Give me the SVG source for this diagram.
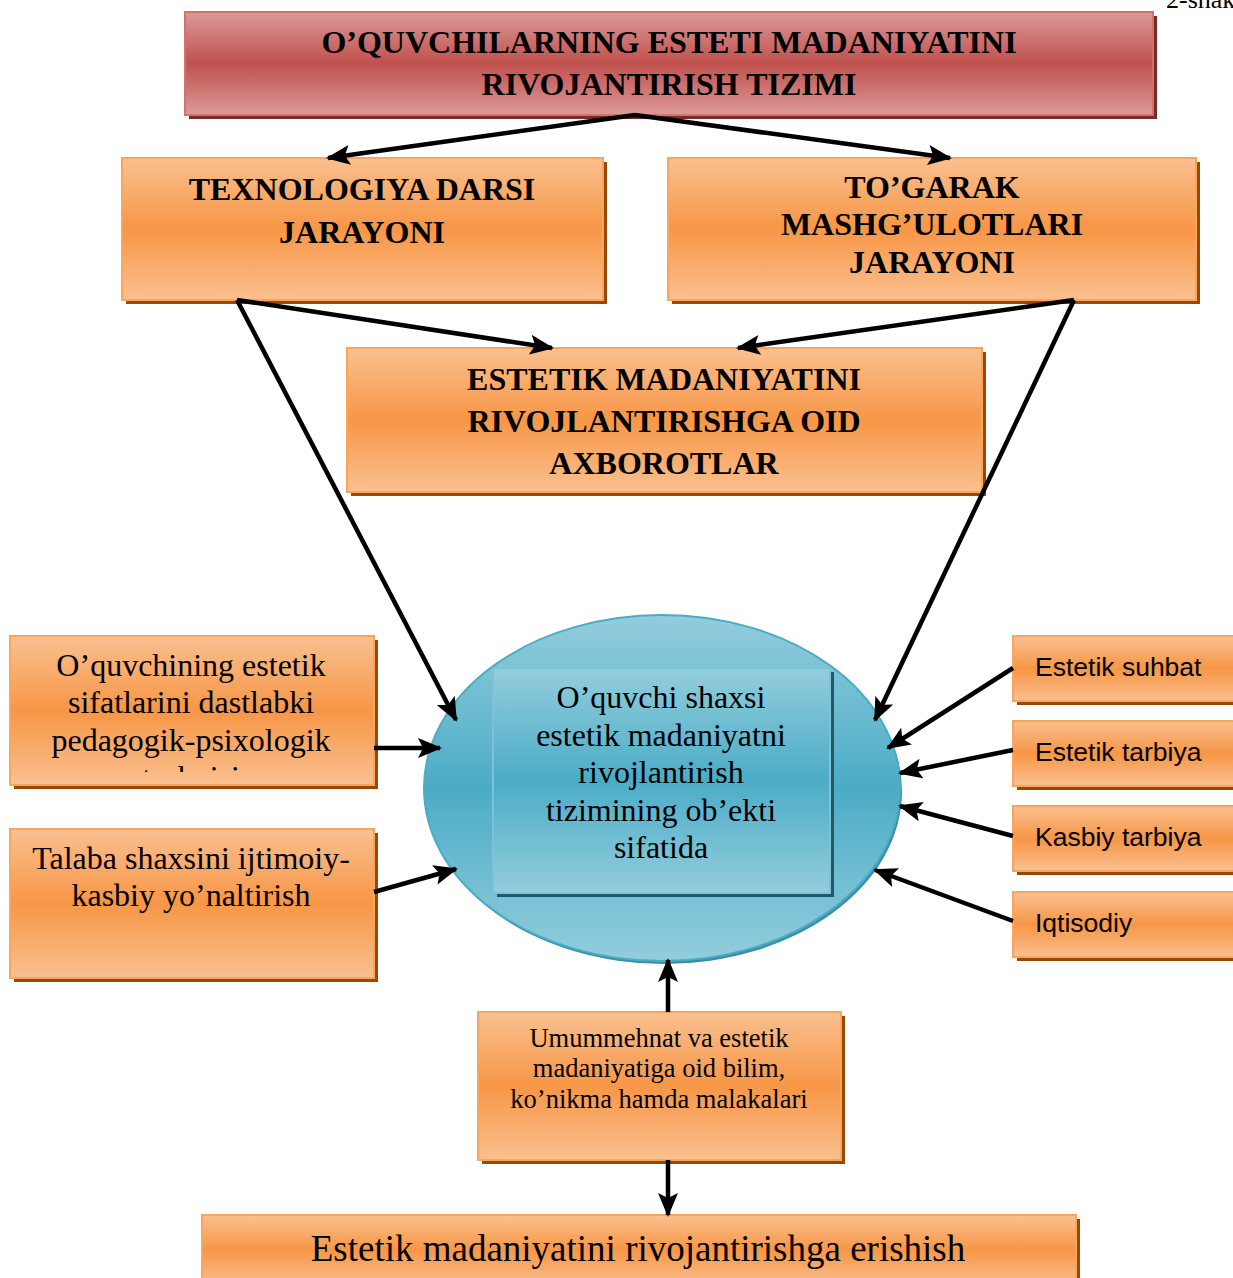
<svg xmlns="http://www.w3.org/2000/svg" width="1233" height="1278" viewBox="0 0 1233 1278">
<style>
.serifB{font-family:"Liberation Serif","Times New Roman",serif;font-weight:bold;font-size:32px;fill:#000;text-anchor:middle}
.serif{font-family:"Liberation Serif","Times New Roman",serif;font-size:32px;fill:#000;text-anchor:middle}
.sans{font-family:"Liberation Sans",Arial,sans-serif;font-size:26.5px;fill:#000}
.obox{fill:url(#og);stroke:#f9a55e;stroke-width:2}
.oshadow{fill:#984807}
.conn{stroke:#000;stroke-width:4.5;fill:none;marker-end:url(#ah)}
</style>
<defs>
<linearGradient id="og" x1="0" y1="0" x2="0" y2="1">
<stop offset="0" stop-color="#fac090"/>
<stop offset="0.5" stop-color="#f79646"/>
<stop offset="1" stop-color="#fac090"/>
</linearGradient>
<linearGradient id="rg" x1="0" y1="0" x2="0" y2="1">
<stop offset="0" stop-color="#dc9a99"/>
<stop offset="0.5" stop-color="#c0504d"/>
<stop offset="1" stop-color="#dc9a99"/>
</linearGradient>
<linearGradient id="bg" x1="0" y1="0" x2="0" y2="1">
<stop offset="0" stop-color="#93cddd"/>
<stop offset="0.5" stop-color="#4bacc6"/>
<stop offset="1" stop-color="#93cddd"/>
</linearGradient>
<marker id="ah" markerUnits="userSpaceOnUse" markerWidth="24" markerHeight="20" viewBox="0 0 24 20" refX="22" refY="10" orient="auto">
<path d="M0,0 L24,10 L0,20 L5,10 Z" fill="#000"/>
</marker>
<clipPath id="clipL1"><rect x="10" y="636" width="364" height="136"/></clipPath>
</defs>

<text x="1166" y="8" style="font-family:'Liberation Serif',serif;font-size:26px;fill:#000">2-shakl</text>

<g id="title">
<rect x="189" y="16" width="968" height="103" fill="#7a2a28"/>
<rect x="185" y="12" width="968" height="103" fill="url(#rg)" stroke="#d07470" stroke-width="2"/>
<text class="serifB" x="669" y="53">O’QUVCHILARNING ESTETI MADANIYATINI</text>
<text class="serifB" x="669" y="95">RIVOJANTIRISH TIZIMI</text>
</g>

<g id="texnologiya">
<rect class="oshadow" x="126" y="162" width="481" height="142"/>
<rect class="obox" x="122" y="158" width="481" height="142"/>
<text class="serifB" x="362" y="200">TEXNOLOGIYA DARSI</text>
<text class="serifB" x="362" y="243">JARAYONI</text>
</g>

<g id="togarak">
<rect class="oshadow" x="672" y="162" width="528" height="142"/>
<rect class="obox" x="668" y="158" width="528" height="142"/>
<text class="serifB" x="932" y="198">TO’GARAK</text>
<text class="serifB" x="932" y="235">MASHG’ULOTLARI</text>
<text class="serifB" x="932" y="273">JARAYONI</text>
</g>

<g id="axborotlar">
<rect class="oshadow" x="351" y="352" width="635" height="144"/>
<rect class="obox" x="347" y="348" width="635" height="144"/>
<text class="serifB" x="664" y="390">ESTETIK MADANIYATINI</text>
<text class="serifB" x="664" y="432">RIVOJLANTIRISHGA OID</text>
<text class="serifB" x="664" y="474">AXBOROTLAR</text>
</g>

<g id="center">
<ellipse cx="664" cy="791" rx="238" ry="173" fill="#3a8ea6"/>
<ellipse cx="662" cy="788" rx="238" ry="173" fill="url(#bg)" stroke="#4bacc6" stroke-width="2"/>
<rect x="497" y="672" width="337" height="225" fill="#215968"/>
<rect x="493" y="668" width="337" height="225" fill="url(#bg)" stroke="#7cc3d7" stroke-width="2"/>
<text class="serif" x="661" y="708">O’quvchi shaxsi</text>
<text class="serif" x="661" y="746">estetik madaniyatni</text>
<text class="serif" x="661" y="783">rivojlantirish</text>
<text class="serif" x="661" y="821">tizimining ob’ekti</text>
<text class="serif" x="661" y="858">sifatida</text>
</g>

<g id="left1">
<rect class="oshadow" x="14" y="640" width="364" height="149"/>
<rect class="obox" x="10" y="636" width="364" height="149"/>
<g clip-path="url(#clipL1)">
<text class="serif" x="191" y="676">O’quvchining estetik</text>
<text class="serif" x="191" y="713">sifatlarini dastlabki</text>
<text class="serif" x="191" y="751">pedagogik-psixologik</text>
<text class="serif" x="191" y="788">tashxisi</text>
</g>
</g>

<g id="left2">
<rect class="oshadow" x="14" y="833" width="364" height="149"/>
<rect class="obox" x="10" y="829" width="364" height="149"/>
<text class="serif" x="191" y="869">Talaba shaxsini ijtimoiy-</text>
<text class="serif" x="191" y="906">kasbiy yo’naltirish</text>
</g>

<g id="r1">
<rect class="oshadow" x="1017" y="640" width="230" height="65"/>
<rect class="obox" x="1013" y="636" width="230" height="65"/>
<text class="sans" x="1035" y="676">Estetik suhbat</text>
</g>
<g id="r2">
<rect class="oshadow" x="1017" y="725" width="230" height="65"/>
<rect class="obox" x="1013" y="721" width="230" height="65"/>
<text class="sans" x="1035" y="761">Estetik tarbiya</text>
</g>
<g id="r3">
<rect class="oshadow" x="1017" y="810" width="230" height="65"/>
<rect class="obox" x="1013" y="806" width="230" height="65"/>
<text class="sans" x="1035" y="846">Kasbiy tarbiya</text>
</g>
<g id="r4">
<rect class="oshadow" x="1017" y="896" width="230" height="65"/>
<rect class="obox" x="1013" y="892" width="230" height="65"/>
<text class="sans" x="1035" y="932">Iqtisodiy</text>
</g>

<g id="bilim">
<rect class="oshadow" x="482" y="1016" width="363" height="148"/>
<rect class="obox" x="478" y="1012" width="363" height="148"/>
<text class="serif" style="font-size:26.5px" x="659" y="1047">Umummehnat va estetik</text>
<text class="serif" style="font-size:26.5px" x="659" y="1077">madaniyatiga oid bilim,</text>
<text class="serif" style="font-size:26.5px" x="659" y="1108">ko’nikma hamda malakalari</text>
</g>

<g id="erishish">
<rect class="oshadow" x="206" y="1219" width="874" height="70"/>
<rect class="obox" x="202" y="1215" width="874" height="70"/>
<text class="serif" style="font-size:37px" x="638" y="1261">Estetik madaniyatini rivojantirishga erishish</text>
</g>

<g id="connectors">
<line class="conn" x1="635" y1="115" x2="328" y2="158"/>
<line class="conn" x1="635" y1="115" x2="950" y2="158"/>
<line class="conn" x1="237" y1="300" x2="552" y2="348"/>
<line class="conn" x1="1074" y1="300" x2="738" y2="348"/>
<line class="conn" x1="237" y1="300" x2="456" y2="720"/>
<line class="conn" x1="1074" y1="300" x2="875" y2="720"/>
<line class="conn" x1="374" y1="748" x2="440" y2="748"/>
<line class="conn" x1="374" y1="892" x2="456" y2="869"/>
<line class="conn" x1="1013" y1="668" x2="888" y2="748"/>
<line class="conn" x1="1013" y1="750" x2="900" y2="773"/>
<line class="conn" x1="1013" y1="836" x2="900" y2="806"/>
<line class="conn" x1="1013" y1="921" x2="875" y2="870"/>
<line class="conn" x1="668" y1="1012" x2="668" y2="960"/>
<line class="conn" x1="668" y1="1160" x2="668" y2="1215"/>
</g>
</svg>
